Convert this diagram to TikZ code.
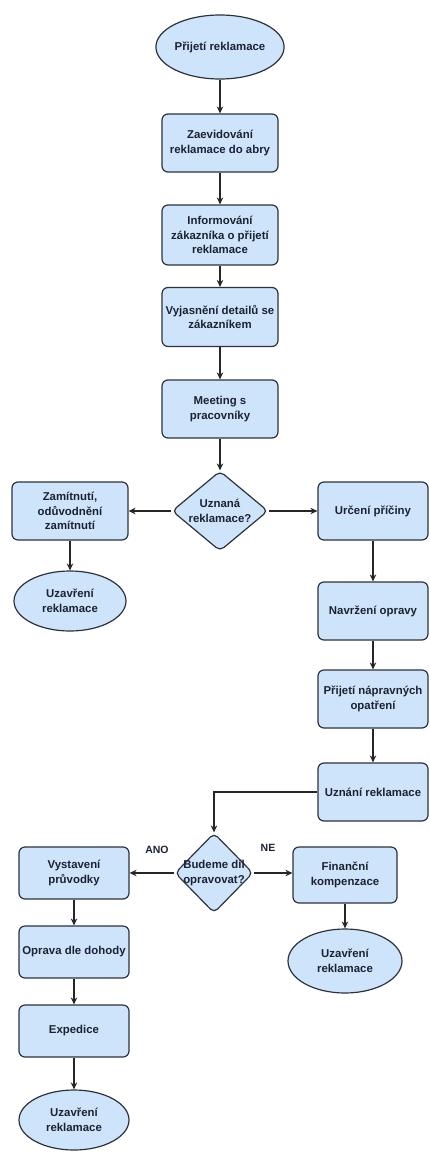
\documentclass[tikz,border=0pt]{standalone}
\usepackage{fontspec}
\setmainfont{Liberation Sans}
\usetikzlibrary{shapes.geometric,arrows.meta}
\definecolor{boxfill}{RGB}{206,228,250}
\definecolor{boxline}{RGB}{45,50,60}
\definecolor{txt}{RGB}{28,34,52}
\begin{document}
\begin{tikzpicture}[x=1pt,y=-1pt,
  every node/.style={font=\bfseries\fontsize{11.4}{14.5}\selectfont, text=txt},
  proc/.style={draw=boxline, fill=boxfill, line width=1.2pt, rounded corners=6pt,
    align=center, minimum width=116pt, minimum height=58pt, inner sep=1pt},
  term/.style={ellipse, draw=boxline, fill=boxfill, line width=1.2pt,
    align=center, inner sep=0pt, minimum width=114pt, minimum height=62pt},
  dec/.style={diamond, draw=boxline, fill=boxfill, line width=1.2pt,
    rounded corners=5pt, inner sep=0pt},
  tag/.style={font=\bfseries\fontsize{10.5}{12}\selectfont},
  arr/.style={draw=black!85, line width=1.1pt, -{Stealth[length=7pt,width=6.5pt]}}
]
\useasboundingbox (0,0) rectangle (430,1153);

% main column
\node[term, minimum width=118pt, minimum height=64pt] (start) at (220,47) {Přijetí reklamace};
\node[proc] (b2) at (220,143) {Zaevidování\\reklamace do abry};
\node[proc, minimum height=60pt] (b3) at (220,235) {Informování\\zákazníka o přijetí\\reklamace};
\node[proc, minimum height=59pt] (b4) at (220,317) {Vyjasnění detailů se\\zákazníkem};
\node[proc] (b5) at (220,409) {Meeting s\\pracovníky};
\node[dec, minimum width=96pt, minimum height=80pt,
  label={[align=center]center:Uznaná\\reklamace?}] (d1) at (220,511) {};

% rejected branch
\node[proc] (rej) at (70,511) {Zamítnutí,\\odůvodnění\\zamítnutí};
\node[term, minimum width=112pt, minimum height=60pt] (end1) at (70,601) {Uzavření\\reklamace};

% accepted branch
\node[proc, minimum width=110pt] (r1) at (373,511) {Určení příčiny};
\node[proc, minimum width=110pt] (r2) at (373,611) {Navržení opravy};
\node[proc, minimum width=110pt] (r3) at (373,699) {Přijetí nápravných\\opatření};
\node[proc, minimum width=110pt] (r4) at (373,792) {Uznání reklamace};
\node[dec, minimum width=78pt, minimum height=80pt,
  label={[align=center]center:Budeme díl\\opravovat?}] (d2) at (214,873) {};

% compensation branch
\node[proc, minimum width=104pt, minimum height=56pt] (fin) at (345,875) {Finanční\\kompenzace};
\node[term, minimum width=114pt, minimum height=64pt] (end2) at (345,961) {Uzavření\\reklamace};

% repair branch
\node[proc, minimum width=110pt, minimum height=52pt] (l1) at (74,873) {Vystavení\\průvodky};
\node[proc, minimum width=110pt, minimum height=52pt] (l2) at (74,952) {Oprava dle dohody};
\node[proc, minimum width=110pt, minimum height=52pt] (l3) at (74,1031) {Expedice};
\node[term, minimum width=110pt, minimum height=60pt] (end3) at (74,1120) {Uzavření\\reklamace};

\node[tag] (ano) at (157,850) {ANO};
\node[tag] (ne) at (268,848) {NE};

% connectors
\draw[arr] (start) -- (b2);
\draw[arr] (b2) -- (b3);
\draw[arr] (b3) -- (b4);
\draw[arr] (b4) -- (b5);
\draw[arr] (b5) -- (d1);
\draw[arr] (d1.west) -- (rej.east);
\draw[arr] (rej) -- (end1);
\draw[arr] (d1.east) -- (r1.west);
\draw[arr] (r1) -- (r2);
\draw[arr] (r2) -- (r3);
\draw[arr] (r3) -- (r4);
\draw[arr] (r4.west) -| (d2.north);
\draw[arr] (d2.east) -- (fin.west |- d2.east);
\draw[arr] (fin) -- (end2);
\draw[arr] (d2.west) -- (l1.east |- d2.west);
\draw[arr] (l1) -- (l2);
\draw[arr] (l2) -- (l3);
\draw[arr] (l3) -- (end3);
\end{tikzpicture}
\end{document}
